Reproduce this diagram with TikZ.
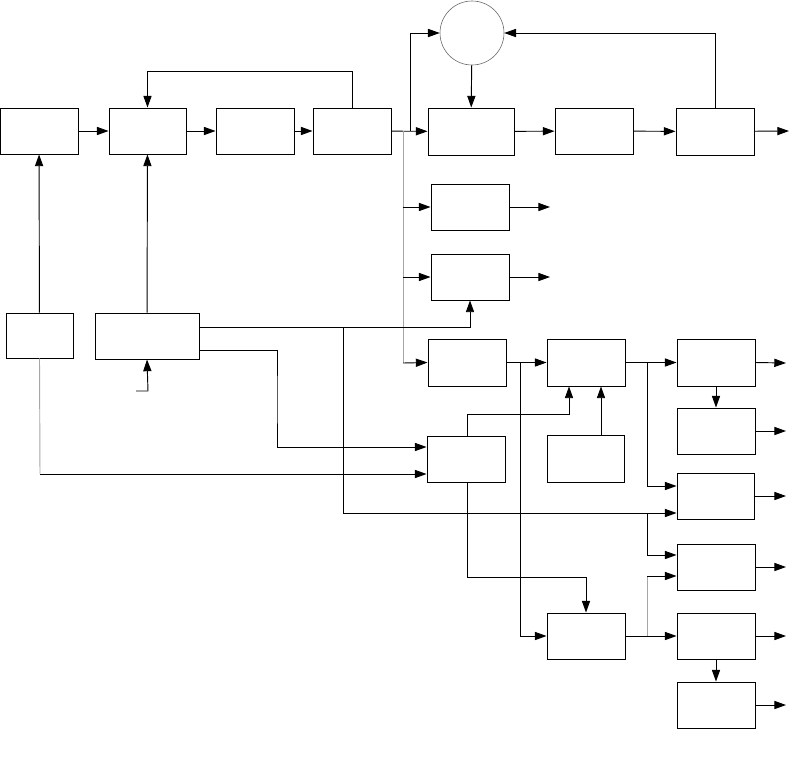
\documentclass[tikz,border=0pt]{standalone}
\usetikzlibrary{arrows.meta}
\begin{document}
\begin{tikzpicture}[
  x=0.03cm, y=-0.03cm,
  line width=0.8pt,
  blk/.style={
    draw,
    rectangle,
    inner sep=0pt,
    minimum width=2.34cm,
    minimum height=1.38cm
  },
  sumnode/.style={draw=black!60, circle, inner sep=0pt, minimum size=1.92cm, line width=0.5pt},
  conn/.style={-{Triangle[length=10pt,width=7pt]}},
  faint/.style={draw=black!35}
]
\useasboundingbox (0,0) rectangle (791,774);

% top chain
\node[blk] (a) at (39,131) {};
\node[blk, minimum width=2.31cm] (b) at (147.5,131) {};
\node[blk] (c) at (255,131) {};
\node[blk] (d) at (352,131) {};
\node[sumnode] (sum) at (472,33) {};
\node[blk, minimum width=2.58cm, minimum height=1.41cm] (e) at (471,131.5) {};
\node[blk] (f) at (594,131) {};
\node[blk, minimum height=1.41cm] (g) at (715,131.5) {};

% branch column
\node[blk] (h1) at (470,207) {};
\node[blk] (h2) at (470,277) {};
\node[blk, minimum height=1.41cm] (h3) at (467,362.5) {};
\node[blk] (h4) at (466,459) {};
\node[blk, minimum height=1.41cm] (i1) at (586,362.5) {};
\node[blk, minimum width=2.31cm, minimum height=1.41cm] (i2) at (585.5,458.5) {};
\node[blk] (k) at (586,636) {};

% output column
\node[blk, minimum height=1.41cm] (j1) at (716,362.5) {};
\node[blk] (j2) at (716,431) {};
\node[blk, minimum width=2.31cm] (j3) at (715.5,496) {};
\node[blk] (j4) at (716,567) {};
\node[blk] (j5) at (716,636) {};
\node[blk] (j6) at (716,705) {};

% left inputs
\node[blk, minimum width=2.01cm, minimum height=1.35cm] (l1) at (39.5,335.5) {};
\node[blk, minimum width=3.12cm] (l2) at (147,336) {};

% bend points
\coordinate (up) at (410,131);
\coordinate (tr) at (403,131);
\coordinate (hj) at (520,363);
\coordinate (oj) at (647,363);
\coordinate (lj) at (343,327);
\coordinate (mj) at (647,513);
\coordinate (kj) at (647,636);
\coordinate (src) at (136,391);

\draw[conn] (a) -- (b);
\draw[conn] (b) -- (c);
\draw[conn] (c) -- (d);
\draw[conn] (d) -- (e);
\draw[conn] (e) -- (f);
\draw[conn] (f) -- (g);
\draw[conn] (g) -- (789,131);
\draw[conn] (up) |- (sum.west);
\draw[conn] (g.north) |- (sum.east);
\draw[conn] (sum) -- (e);
\draw[conn] (d.north) -- (d.north |- 0,71) -| (b.north);

\draw[faint] (tr) -- (403,363);
\draw[conn] (403,207) -- (h1.west);
\draw[conn] (403,277) -- (h2.west);
\draw[conn] (403,363) -- (h3.west);
\draw[conn] (h1) -- (550,207);
\draw[conn] (h2) -- (550,277);

\draw[conn] (l1) -- (a);
\draw[conn] (l2) -- (b);
\draw[faint] (l1.south) -- (40,474);
\draw[conn] (40,474) -- (h4.west |- 0,474);
\draw[conn] (src) -- (148,391) -- (l2.south);
\draw[conn] (l2.east |- 0,327) -| (h2.south -| 470,0);
\draw[conn] (lj) |- (j3.west |- 0,513);
\draw[conn] (mj) |- (j4.west |- 0,555);
\draw[conn] (l2.east |- 0,350) -| (277,400) |- (h4.west |- 0,447);

\draw[conn] (h3) -- (i1);
\draw[conn] (hj) |- (k.west);
\draw[conn] (h4.north -| 467,0) |- (569,414) -- (i1.south -| 569,0);
\draw[conn] (i2.north -| 601,0) -- (i1.south -| 601,0);
\draw[conn] (h4.south -| 467,0) |- (586,577) -- (k.north);

\draw[conn] (i1) -- (j1);
\draw[conn] (oj) |- (j3.west |- 0,486);
\draw[conn] (j1) -- (j2);
\draw[conn] (k) -- (j5);
\draw[faint] (647,576) -- (kj);
\draw[conn] (647,576) -- (j4.west |- 0,576);
\draw[conn] (j5) -- (j6);

\draw[conn] (j1.east) -- (786,363);
\draw[conn] (j2.east) -- (786,431);
\draw[conn] (j3.east) -- (786,496);
\draw[conn] (j4.east) -- (786,567);
\draw[conn] (j5.east) -- (786,636);
\draw[conn] (j6.east) -- (786,705);
\end{tikzpicture}
\end{document}
